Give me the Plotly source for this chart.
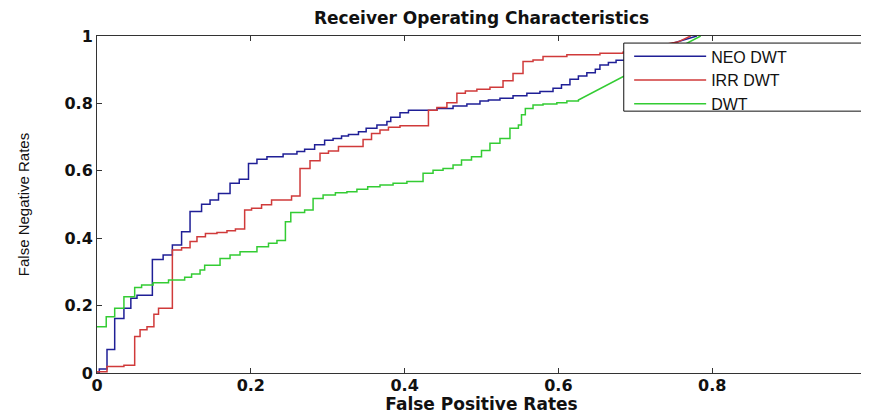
import plotly.graph_objects as go

# ---------------- data ----------------
series_names = ["NEO DWT", "IRR DWT", "DWT"]

neo_fpr = [0, 0.003, 0.013, 0.023, 0.035, 0.044, 0.052, 0.072, 0.086, 0.098,
           0.110, 0.121, 0.136, 0.147, 0.158, 0.173, 0.185, 0.197, 0.208, 0.221,
           0.242, 0.260, 0.270, 0.283, 0.296, 0.307, 0.318, 0.327, 0.340, 0.350,
           0.364, 0.377, 0.382, 0.394, 0.405, 0.442, 0.463, 0.481, 0.498, 0.509,
           0.524, 0.541, 0.559, 0.576, 0.593, 0.604, 0.615, 0.626, 0.637, 0.648,
           0.654, 0.665, 0.675, 0.686]
neo_fnr = [0, 0.012, 0.070, 0.162, 0.192, 0.222, 0.231, 0.337, 0.350, 0.380,
           0.419, 0.479, 0.501, 0.513, 0.533, 0.563, 0.575, 0.622, 0.634, 0.642,
           0.650, 0.657, 0.664, 0.677, 0.691, 0.696, 0.703, 0.708, 0.716, 0.726,
           0.736, 0.746, 0.759, 0.772, 0.780, 0.785, 0.792, 0.798, 0.807, 0.810,
           0.815, 0.823, 0.830, 0.835, 0.845, 0.855, 0.872, 0.881, 0.891, 0.901,
           0.914, 0.921, 0.928, 0.935]
neo_tail_fpr = [0.780]
neo_tail_fnr = [1.0]

irr_fpr = [0, 0.013, 0.035, 0.049, 0.056, 0.065, 0.074, 0.080, 0.098, 0.110,
           0.121, 0.130, 0.141, 0.156, 0.169, 0.180, 0.192, 0.201, 0.214, 0.227,
           0.253, 0.264, 0.277, 0.290, 0.301, 0.314, 0.346, 0.357, 0.368, 0.379,
           0.394, 0.431, 0.442, 0.455, 0.468, 0.479, 0.494, 0.511, 0.528, 0.541,
           0.554, 0.567, 0.580, 0.611, 0.654, 0.684]
irr_fnr = [0.004, 0.019, 0.023, 0.108, 0.128, 0.137, 0.174, 0.192, 0.365, 0.372,
           0.390, 0.404, 0.414, 0.417, 0.422, 0.427, 0.484, 0.489, 0.499, 0.513,
           0.525, 0.607, 0.630, 0.652, 0.659, 0.672, 0.693, 0.711, 0.721, 0.729,
           0.734, 0.780, 0.788, 0.802, 0.830, 0.837, 0.842, 0.848, 0.867, 0.889,
           0.924, 0.929, 0.939, 0.944, 0.949, 0.952]
irr_tail_fpr = [0.755, 0.772]
irr_tail_fnr = [0.982, 1.0]

dwt_fpr = [0, 0.012, 0.023, 0.035, 0.049, 0.058, 0.073, 0.093, 0.114, 0.123,
           0.134, 0.140, 0.160, 0.173, 0.186, 0.208, 0.223, 0.234, 0.245, 0.252,
           0.270, 0.281, 0.294, 0.310, 0.325, 0.338, 0.352, 0.368, 0.385, 0.403,
           0.424, 0.437, 0.450, 0.463, 0.474, 0.487, 0.500, 0.511, 0.524, 0.537,
           0.548, 0.552, 0.557, 0.567, 0.580, 0.598, 0.611, 0.626]
dwt_fnr = [0.137, 0.167, 0.192, 0.226, 0.254, 0.261, 0.268, 0.276, 0.284, 0.294,
           0.306, 0.320, 0.340, 0.350, 0.360, 0.375, 0.385, 0.393, 0.449, 0.476,
           0.484, 0.518, 0.528, 0.535, 0.538, 0.545, 0.553, 0.558, 0.563, 0.568,
           0.593, 0.602, 0.607, 0.617, 0.632, 0.642, 0.660, 0.682, 0.696, 0.726,
           0.736, 0.766, 0.785, 0.795, 0.798, 0.802, 0.807, 0.810]
dwt_tail_fpr = [0.785]
dwt_tail_fnr = [1.0]

tick_vals = [0, 0.2, 0.4, 0.6, 0.8, 1]
tick_text = ["0", "0.2", "0.4", "0.6", "0.8", "1"]

colors = ["#1f1f96", "#d03a3a", "#33cc33"]


def stairs(xs, ys, tx, ty):
    vx, vy = [xs[0]], [ys[0]]
    for x, y in zip(xs[1:], ys[1:]):
        vx += [x, x]
        vy += [vy[-1], y]
    return vx + list(tx), vy + list(ty)


fig = go.Figure()
for name, xs, ys, tx, ty, c in [
    (series_names[0], neo_fpr, neo_fnr, neo_tail_fpr, neo_tail_fnr, colors[0]),
    (series_names[1], irr_fpr, irr_fnr, irr_tail_fpr, irr_tail_fnr, colors[1]),
    (series_names[2], dwt_fpr, dwt_fnr, dwt_tail_fpr, dwt_tail_fnr, colors[2]),
]:
    vx, vy = stairs(xs, ys, tx, ty)
    fig.add_trace(go.Scatter(x=vx, y=vy, mode="lines", name=name,
                             line=dict(color=c, width=1.5)))

axis_common = dict(
    range=[0, 1], tickvals=tick_vals, ticktext=tick_text,
    showgrid=False, zeroline=False, showline=True, linecolor="#333333",
    linewidth=1, mirror="ticks", ticks="inside", ticklen=5,
    tickcolor="#333333",
    tickfont=dict(family="DejaVu Sans", size=16, color="#111111",
                  weight="bold"),
)

# The page body adds an 8 px offset; the figure is sized to compensate.
W, H = 861, 406
fig.update_layout(
    width=W, height=H,
    margin=dict(l=89, r=3, t=28, b=41),
    paper_bgcolor="white", plot_bgcolor="white",
    title=dict(text="<b>Receiver Operating Characteristics</b>",
               font=dict(family="DejaVu Sans", size=17, color="#111111"),
               x=0.5, xref="paper", xanchor="center",
               y=1 - 10.5 / H, yref="container", yanchor="middle"),
    xaxis=dict(**axis_common, ticklabelstandoff=-2,
               title=dict(text="<b>False Positive Rates</b>", standoff=4,
                          font=dict(family="DejaVu Sans", size=17,
                                    color="#111111"))),
    yaxis=dict(**axis_common,
               title=dict(text="False Negative Rates", standoff=31,
                          font=dict(family="Liberation Sans", size=15,
                                    color="#111111"))),
    legend=dict(x=0.692, xanchor="left", y=0.99, yanchor="top",
                bgcolor="rgba(0,0,0,0)", borderwidth=0,
                font=dict(family="Liberation Sans", size=16, color="#111111"),
                itemwidth=72, tracegroupgap=0),
    shapes=[dict(type="rect", xref="paper", yref="paper",
                 x0=0.685, x1=0.9985, y0=0.777, y1=0.979,
                 line=dict(color="#111111", width=1),
                 fillcolor="white", layer="above")],
    showlegend=True,
)
fig.update_xaxes(automargin=False)
fig.update_yaxes(automargin=False)

fig.write_html("out.html")
